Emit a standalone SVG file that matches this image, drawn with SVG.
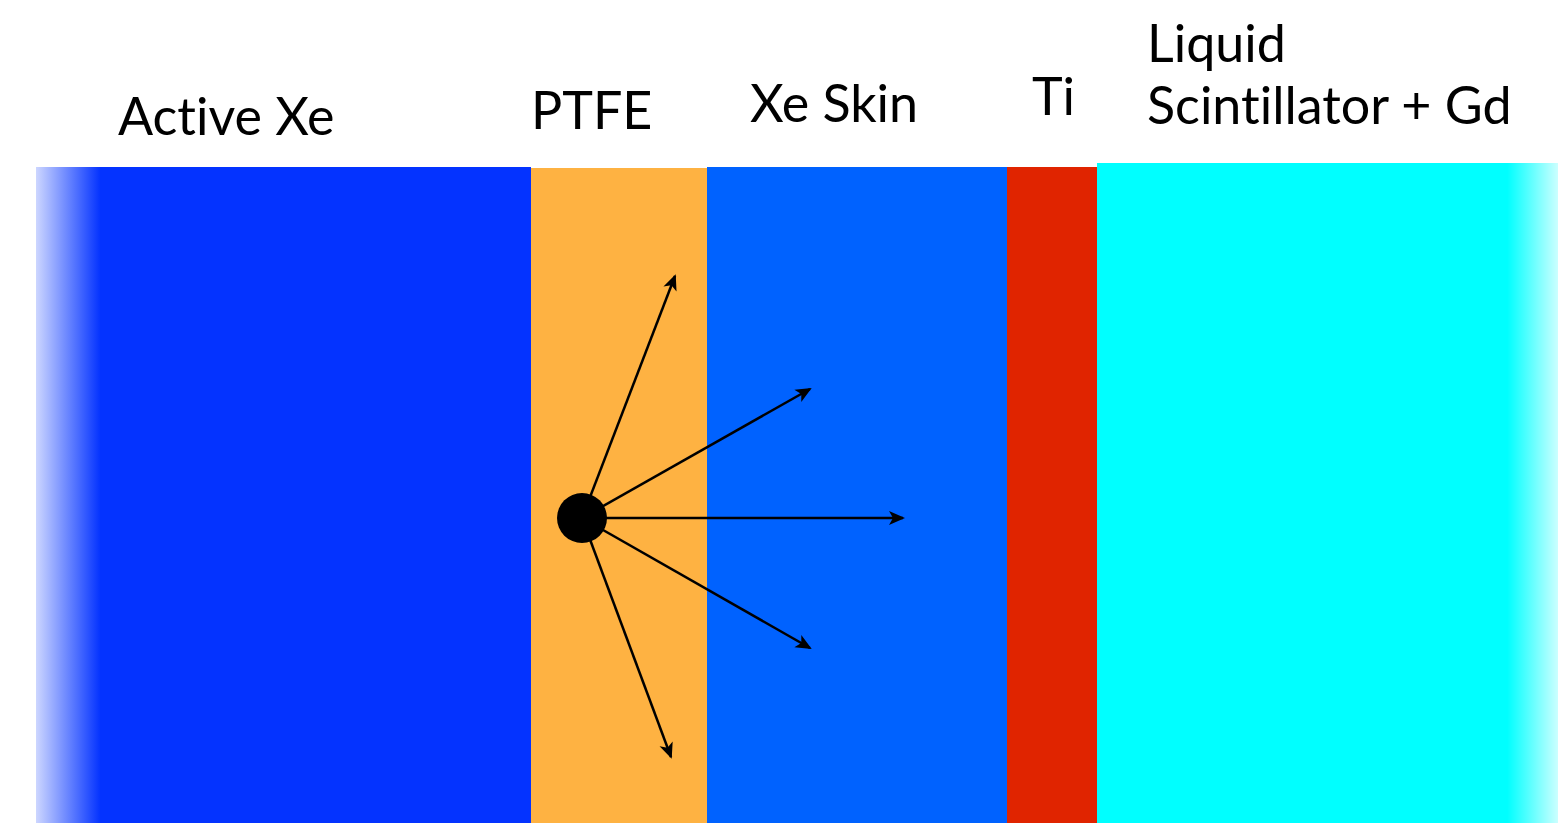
<svg xmlns="http://www.w3.org/2000/svg" width="1558" height="823" viewBox="0 0 1558 823">
<defs>
<style>
text{font-family:Lato,"Open Sans","DejaVu Sans",sans-serif;font-size:52px;fill:#000;font-variant-ligatures:none;font-feature-settings:"liga" 0}
.arr{stroke:#000;stroke-width:2.5;fill:none;marker-end:url(#ah)}
</style>
<linearGradient id="gxe" x1="36" y1="0" x2="531" y2="0" gradientUnits="userSpaceOnUse">
<stop offset="0" stop-color="#0433FF" stop-opacity="0.2"/>
<stop offset="0.13" stop-color="#0433FF" stop-opacity="1"/>
<stop offset="1" stop-color="#0433FF" stop-opacity="1"/>
</linearGradient>
<linearGradient id="gls" x1="1097" y1="0" x2="1558" y2="0" gradientUnits="userSpaceOnUse">
<stop offset="0" stop-color="#00FFFF" stop-opacity="1"/>
<stop offset="0.89" stop-color="#00FFFF" stop-opacity="1"/>
<stop offset="1" stop-color="#00FFFF" stop-opacity="0.2"/>
</linearGradient>
<marker id="ah" viewBox="-20 -10 30 20" refX="0" refY="0" markerWidth="30" markerHeight="20" markerUnits="userSpaceOnUse" orient="auto" style="overflow:visible">
<path d="M2,0 L-14,-7 L-10,0 L-14,7 Z" fill="#000"/>
</marker>
</defs>
<g id="active-xe">
<rect x="36" y="167" width="495" height="656" fill="url(#gxe)"/>
<text x="118" y="135">Active Xe</text>
</g>
<g id="ptfe">
<rect x="531" y="168" width="176" height="655" fill="#FEB242"/>
<text x="531" y="129">PTFE</text>
</g>
<g id="xe-skin">
<rect x="707" y="167" width="300" height="656" fill="#0062FF"/>
<text x="750" y="122">Xe Skin</text>
</g>
<g id="ti">
<rect x="1007" y="167" width="90" height="656" fill="#E02400"/>
<text x="1032" y="115">Ti</text>
</g>
<g id="ls">
<rect x="1097" y="163" width="461" height="660" fill="url(#gls)"/>
<text x="1147" y="62">Liquid</text>
<text x="1147" y="124">Scintillator + Gd</text>
</g>
<g id="connectors">
<line class="arr" x1="582" y1="518" x2="675" y2="276"/>
<line class="arr" x1="582" y1="518" x2="810" y2="389"/>
<line class="arr" x1="582" y1="518" x2="903" y2="518"/>
<line class="arr" x1="582" y1="518" x2="810" y2="648"/>
<line class="arr" x1="582" y1="518" x2="671" y2="757"/>
</g>
<g id="source">
<circle cx="582" cy="518" r="25" fill="#000"/>
</g>
</svg>
